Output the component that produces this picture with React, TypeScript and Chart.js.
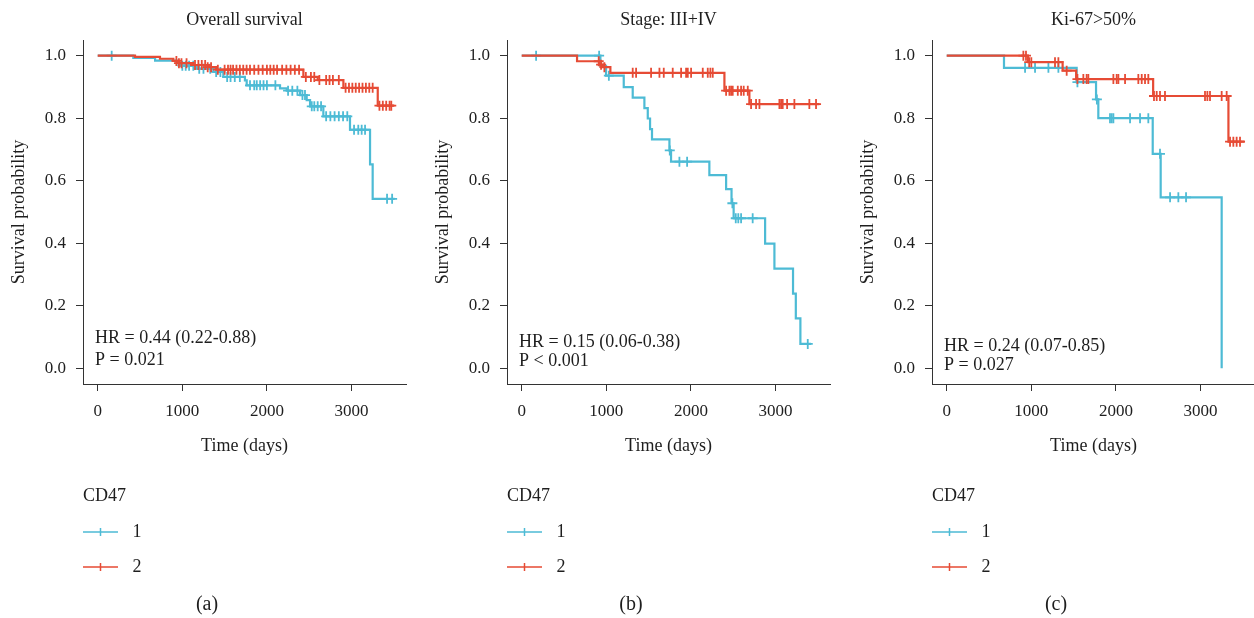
import React, { useEffect, useRef } from "react";
import { Chart, registerables } from "chart.js";

Chart.register(...registerables);

// ---------- data ----------
const GROUP_LABELS = ["1", "2"];
const LEGEND_TITLE = "CD47";
const PANEL_TITLES = ["Overall survival", "Stage: III+IV", "Ki-67>50%"];
const PANEL_CAPTIONS = ["(a)", "(b)", "(c)"];
const HR_LABELS = ["HR = 0.44 (0.22-0.88)", "HR = 0.15 (0.06-0.38)", "HR = 0.24 (0.07-0.85)"];
const P_LABELS = ["P = 0.021", "P < 0.001", "P = 0.027"];
const X_TICKS = [0, 1000, 2000, 3000];
const Y_TICKS = [0, 0.2, 0.4, 0.6, 0.8, 1.0];

// Kaplan-Meier steps: [time, survival from that time]; last entry = end of follow-up
const OS_G1_STEPS = [[0, 1], [421, 0.993], [678, 0.984], [934, 0.975], [975, 0.968], [1170, 0.958], [1367, 0.948], [1485, 0.932], [1740, 0.921], [1761, 0.905], [2155, 0.895], [2234, 0.888], [2391, 0.874], [2470, 0.858], [2510, 0.838], [2667, 0.806], [2982, 0.763], [3219, 0.652], [3250, 0.542], [3510, 0.542]];
const OS_G1_CENSOR = [165, 1000, 1040, 1080, 1130, 1200, 1250, 1330, 1400, 1450, 1530, 1570, 1620, 1680, 1800, 1850, 1880, 1920, 1960, 2000, 2100, 2250, 2300, 2360, 2420, 2450, 2530, 2560, 2600, 2640, 2700, 2750, 2800, 2850, 2900, 2950, 3030, 3080, 3120, 3160, 3420, 3480];
const OS_G2_STEPS = [[0, 1], [441, 0.996], [736, 0.99], [894, 0.983], [960, 0.976], [1130, 0.97], [1300, 0.963], [1400, 0.955], [2431, 0.932], [2600, 0.922], [2904, 0.897], [3310, 0.84], [3500, 0.84]];
const OS_G2_CENSOR = [930, 960, 990, 1050, 1150, 1190, 1230, 1270, 1300, 1340, 1420, 1500, 1540, 1570, 1600, 1640, 1680, 1720, 1760, 1800, 1850, 1900, 1950, 2000, 2040, 2080, 2120, 2180, 2230, 2280, 2330, 2380, 2460, 2520, 2560, 2620, 2700, 2740, 2780, 2850, 2930, 2970, 3010, 3050, 3090, 3130, 3170, 3210, 3250, 3330, 3370, 3410, 3450, 3470];

const ST_G1_STEPS = [[0, 1], [930, 0.967], [997, 0.936], [1206, 0.899], [1312, 0.866], [1450, 0.832], [1490, 0.799], [1517, 0.765], [1540, 0.732], [1746, 0.697], [1765, 0.661], [2218, 0.618], [2416, 0.573], [2480, 0.528], [2505, 0.48], [2877, 0.399], [2987, 0.319], [3207, 0.239], [3240, 0.16], [3294, 0.078], [3420, 0.078]];
const ST_G1_CENSOR = [170, 915, 1030, 1750, 1864, 1955, 2490, 2530, 2560, 2593, 2730, 3381];
const ST_G2_STEPS = [[0, 1], [654, 0.982], [918, 0.971], [960, 0.963], [1048, 0.945], [2396, 0.888], [2691, 0.845], [3519, 0.845]];
const ST_G2_CENSOR = [910, 938, 977, 1312, 1352, 1529, 1628, 1679, 1785, 1884, 1943, 1963, 2002, 2140, 2199, 2230, 2258, 2416, 2455, 2475, 2494, 2554, 2593, 2624, 2672, 2711, 2770, 2810, 3046, 3066, 3085, 3137, 3223, 3400, 3479];

const KI_G1_STEPS = [[0, 1], [677, 0.961], [1536, 0.915], [1765, 0.86], [1792, 0.8], [2435, 0.686], [2529, 0.547], [3250, 0]];
const KI_G1_CENSOR = [926, 1044, 1202, 1320, 1545, 1775, 1930, 1950, 1970, 2167, 2285, 2383, 2521, 2640, 2738, 2829];
const KI_G2_STEPS = [[0, 1], [960, 0.979], [1370, 0.952], [1530, 0.925], [2440, 0.871], [3330, 0.725], [3520, 0.725]];
const KI_G2_CENSOR = [906, 937, 975, 1000, 1280, 1320, 1418, 1545, 1615, 1654, 1674, 1970, 2009, 2029, 2108, 2265, 2305, 2344, 2383, 2450, 2482, 2521, 2580, 3053, 3081, 3112, 3250, 3309, 3349, 3388, 3427, 3467];

const PANEL_SERIES = [
  [[OS_G1_STEPS, OS_G1_CENSOR], [OS_G2_STEPS, OS_G2_CENSOR]],
  [[ST_G1_STEPS, ST_G1_CENSOR], [ST_G2_STEPS, ST_G2_CENSOR]],
  [[KI_G1_STEPS, KI_G1_CENSOR], [KI_G2_STEPS, KI_G2_CENSOR]],
];

// ---------- style / layout ----------
const COLORS = ["#4DBBD5", "#E64B35"];
const FONT = "'Liberation Serif', 'Times New Roman', serif";
const TEXT = "#1e1e1e";
const AXIS = "#333333";
const CANVAS_W = 424;
const CANVAS_H = 618;
const PANEL_LEFTS = [0, 424, 849];
const HR_OFFSETS = [[46, 23.5], [42, 22.3], [38, 19.2]]; // distance above plot bottom

function survivalAt(steps: number[][], t: number) {
  let s = 1;
  for (const [time, val] of steps) {
    if (time <= t) s = val;
  }
  return s;
}

const annotatePlugin = {
  id: "annotate",
  afterDraw(chart: any, _args: any, opts: any) {
    const i = opts.index;
    const { ctx, chartArea } = chart;
    ctx.save();
    ctx.fillStyle = TEXT;
    ctx.textBaseline = "middle";
    ctx.textAlign = "left";
    ctx.font = `18px ${FONT}`;
    const x0 = chartArea.left + 12;
    ctx.fillText(HR_LABELS[i], x0, chartArea.bottom - HR_OFFSETS[i][0]);
    ctx.fillText(P_LABELS[i], x0, chartArea.bottom - HR_OFFSETS[i][1]);

    // legend
    const lx = chartArea.left;
    ctx.fillText(LEGEND_TITLE, lx, 496);
    const rows = [532, 567];
    GROUP_LABELS.forEach((lab, g) => {
      const y = rows[g];
      ctx.strokeStyle = COLORS[g];
      ctx.lineWidth = 1.5;
      ctx.beginPath();
      ctx.moveTo(lx, y);
      ctx.lineTo(lx + 35, y);
      ctx.moveTo(lx + 17.5, y - 4);
      ctx.lineTo(lx + 17.5, y + 4);
      ctx.stroke();
      ctx.fillStyle = TEXT;
      ctx.fillText(lab, lx + 49.5, y);
    });

    // caption
    ctx.textAlign = "center";
    ctx.font = `20px ${FONT}`;
    ctx.fillText(PANEL_CAPTIONS[i], 207, 605);
    ctx.restore();
  },
};

function Panel({ index }: { index: number }) {
  const ref = useRef<HTMLCanvasElement | null>(null);

  useEffect(() => {
    if (!ref.current) return;
    const series = PANEL_SERIES[index];
    const datasets: any[] = [];
    // red (group 2) first so it is drawn on top
    [1, 0].forEach((g) => {
      const [steps, censor] = series[g];
      datasets.push({
        label: GROUP_LABELS[g],
        data: steps.map(([t, s]) => ({ x: t, y: s })),
        showLine: true,
        stepped: true,
        borderColor: COLORS[g],
        borderWidth: 2.2,
        pointRadius: 0,
        fill: false,
      });
      datasets.push({
        label: GROUP_LABELS[g] + " censored",
        data: censor.map((t) => ({ x: t, y: survivalAt(steps, t) })),
        showLine: false,
        pointStyle: "cross",
        pointRadius: 5,
        pointBorderWidth: 1.8,
        borderColor: COLORS[g],
        backgroundColor: COLORS[g],
      });
    });

    const tickFont = { family: FONT, size: 17 };
    const titleFont = { family: FONT, size: 18, weight: "normal" as const };

    const chart = new Chart(ref.current, {
      type: "scatter",
      data: { datasets },
      plugins: [annotatePlugin],
      options: {
        animation: false,
        responsive: false,
        events: [],
        layout: { padding: { left: 0, right: CANVAS_W - 406, top: 0, bottom: 159 } },
        plugins: {
          legend: { display: false },
          tooltip: { enabled: false },
          title: {
            display: true,
            text: PANEL_TITLES[index],
            font: titleFont,
            color: TEXT,
            fullSize: false,
            padding: { top: 9, bottom: 9.4 },
          },
          annotate: { index },
        } as any,
        scales: {
          x: {
            type: "linear",
            min: -174,
            max: 3644,
            afterBuildTicks: (s: any) => {
              s.ticks = X_TICKS.map((v) => ({ value: v }));
            },
            afterFit: (s: any) => {
              s.height = 75;
            },
            ticks: {
              font: tickFont,
              color: TEXT,
              padding: 10,
              maxRotation: 0,
              autoSkip: false,
              callback: (v: any) => String(v),
            },
            grid: { display: true, drawOnChartArea: false, drawTicks: true, tickLength: 7, color: AXIS, lineWidth: 1 },
            border: { display: true, color: AXIS, width: 1 },
            title: { display: true, text: "Time (days)", font: titleFont, color: TEXT, padding: { top: 0, bottom: 2 } },
          },
          y: {
            type: "linear",
            min: -0.05,
            max: 1.05,
            afterBuildTicks: (s: any) => {
              s.ticks = Y_TICKS.map((v) => ({ value: v }));
            },
            afterFit: (s: any) => {
              s.width = 83;
            },
            ticks: {
              font: tickFont,
              color: TEXT,
              padding: 10,
              autoSkip: false,
              callback: (v: any) => Number(v).toFixed(1),
            },
            grid: { display: true, drawOnChartArea: false, drawTicks: true, tickLength: 7, color: AXIS, lineWidth: 1 },
            border: { display: true, color: AXIS, width: 1 },
            title: { display: true, text: "Survival probability", font: titleFont, color: TEXT, padding: { top: 8, bottom: 0 } },
          },
        },
      } as any,
    });
    return () => chart.destroy();
  }, [index]);

  return (
    <canvas
      ref={ref}
      width={CANVAS_W}
      height={CANVAS_H}
      style={{ position: "absolute", left: PANEL_LEFTS[index], top: 0, width: CANVAS_W, height: CANVAS_H }}
    />
  );
}

export default function App() {
  return (
    <div
      style={{
        position: "fixed",
        left: 0,
        top: 0,
        width: 1254,
        height: 618,
        overflow: "hidden",
        background: "#ffffff",
      }}
    >
      {PANEL_TITLES.map((_, i) => (
        <Panel key={i} index={i} />
      ))}
    </div>
  );
}
